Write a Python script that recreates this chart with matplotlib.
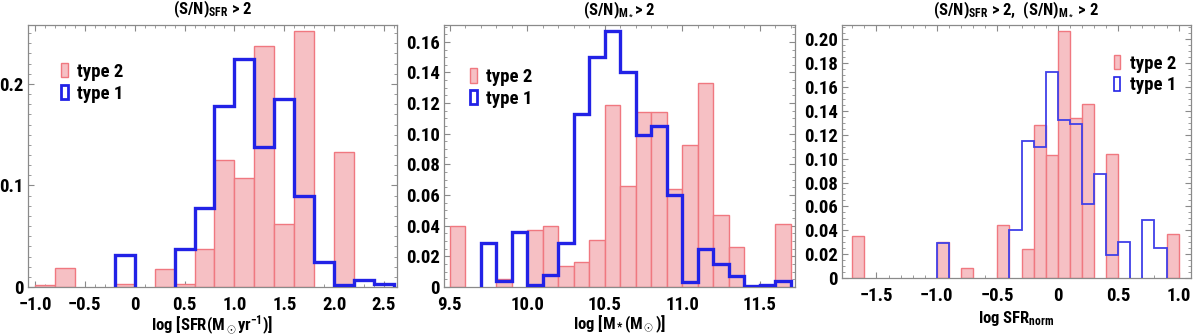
import numpy as np
import matplotlib
matplotlib.use("Agg")
import matplotlib.pyplot as plt
from matplotlib import font_manager
from matplotlib.patches import Patch
from matplotlib.ticker import MultipleLocator

# the reference uses a narrow bold sans; take whichever narrow face is installed
_narrow = []
for _f in font_manager.fontManager.ttflist:
    if ('Narrow' in _f.name or 'Condensed' in _f.name or _f.stretch == 'condensed') \
            and _f.name not in _narrow:
        _narrow.append(_f.name)
_pref = ['Liberation Sans Narrow', 'Roboto Condensed', 'Open Sans Condensed',
         'Noto Sans Condensed', 'DejaVu Sans']
_fams = [n for n in _pref if n in _narrow] + [n for n in _narrow if n not in _pref]
_main = _fams[0] if _fams else 'DejaVu Sans'
plt.rcParams['font.family'] = _fams + ['DejaVu Sans']
plt.rcParams['font.stretch'] = 'condensed'
plt.rcParams['font.weight'] = 'bold'
plt.rcParams['mathtext.fontset'] = 'custom'
plt.rcParams['mathtext.rm'] = _main + ':bold'
plt.rcParams['mathtext.bf'] = _main + ':bold'
plt.rcParams['mathtext.it'] = _main + ':bold'
plt.rcParams['mathtext.default'] = 'bf'

# panel 1: log SFR, bins of 0.2 from -1.0 to 2.6
sfr_edges = np.round(np.arange(-1.0, 2.61, 0.2), 2)
sfr_type2 = [0.002, 0.019, 0, 0, 0.003, 0, 0.018, 0.003, 0.037,
             0.125, 0.107, 0.237, 0.062, 0.252, 0, 0.133, 0, 0]
sfr_type1 = [0, 0, 0, 0, 0.032, 0, 0, 0.037, 0.078,
             0.178, 0.225, 0.138, 0.185, 0.090, 0.025, 0.002, 0.007, 0.003]
sfr_xticks = [-1.0, -0.5, 0, 0.5, 1.0, 1.5, 2.0, 2.5]
sfr_xlabels = ['\u22121.0', '\u22120.5', '0', '0.5', '1.0', '1.5', '2.0', '2.5']
sfr_yticks = [0, 0.1, 0.2]
sfr_ylabels = ['0', '0.1', '0.2']

# panel 2: log M*, bins of 0.1 from 9.5 to 11.7
mass_edges = np.round(np.arange(9.5, 11.71, 0.1), 2)
mass_type2 = [0.040, 0, 0, 0.005, 0, 0.037, 0.040, 0.014, 0.016, 0.031, 0.119,
              0.066, 0.114, 0.114, 0.064, 0.093, 0.133, 0.047, 0.026, 0, 0, 0.041]
mass_type1 = [0, 0, 0.029, 0.004, 0.036, 0.001, 0.008, 0.029, 0.113, 0.150, 0.167,
              0.140, 0.099, 0.105, 0.060, 0.003, 0.025, 0.015, 0.007, 0.0005, 0.001, 0.004]
mass_xticks = [9.5, 10.0, 10.5, 11.0, 11.5]
mass_xlabels = ['9.5', '10.0', '10.5', '11.0', '11.5']
mass_yticks = [0, 0.02, 0.04, 0.06, 0.08, 0.10, 0.12, 0.14, 0.16]
mass_ylabels = ['0', '0.02', '0.04', '0.06', '0.08', '0.10', '0.12', '0.14', '0.16']

# panel 3: log SFR_norm, bins of 0.1 from -1.7 to 1.0
norm_edges = np.round(np.arange(-1.7, 1.01, 0.1), 2)
norm_type2 = [0.035, 0, 0, 0, 0, 0, 0, 0.030, 0, 0.008, 0, 0, 0.044, 0,
              0.024, 0.128, 0.103, 0.207, 0.134, 0.146, 0, 0.104, 0, 0, 0, 0, 0.037]
norm_type1 = [0, 0, 0, 0, 0, 0, 0, 0.029, 0, 0, 0, 0, 0, 0.040,
              0.115, 0.110, 0.173, 0.132, 0.129, 0.062, 0.087, 0.019, 0.030, 0, 0.049, 0.025, 0]
norm_xticks = [-1.5, -1.0, -0.5, 0, 0.5, 1.0]
norm_xlabels = ['\u22121.5', '\u22121.0', '\u22120.5', '0', '0.5', '1.0']
norm_yticks = [0, 0.02, 0.04, 0.06, 0.08, 0.10, 0.12, 0.14, 0.16, 0.18, 0.20]
norm_ylabels = ['0', '0.02', '0.04', '0.06', '0.08', '0.10', '0.12', '0.14', '0.16', '0.18', '0.20']

RED_FILL = '#f6c0c4'
RED_EDGE = '#f07880'
BLUE = '#2222e6'
FRAME = '#8a8a8a'


def draw_type2(ax, edges, vals):
    vals = np.asarray(vals, dtype=float)
    keep = vals > 0
    widths = np.diff(edges)
    ax.bar(edges[:-1][keep], vals[keep], width=widths[keep], align='edge',
           facecolor=RED_FILL, edgecolor=RED_EDGE, linewidth=1.0, zorder=2)


def draw_type1(ax, edges, vals, lw, color):
    # one open step outline per run of non-empty bins
    vals = np.asarray(vals, dtype=float)
    i = 0
    n = len(vals)
    while i < n:
        if vals[i] > 0:
            j = i
            while j < n and vals[j] > 0:
                j += 1
            ax.stairs(vals[i:j], edges[i:j + 1], baseline=0, color=color,
                      linewidth=lw, zorder=3)
            i = j
        else:
            i += 1


def style_axes(ax, xlim, ylim, xticks, xlabels, yticks, ylabels, xminor, yminor):
    ax.set_xlim(*xlim)
    ax.set_ylim(*ylim)
    ax.set_xticks(xticks, xlabels)
    ax.set_yticks(yticks, ylabels)
    ax.xaxis.set_minor_locator(MultipleLocator(xminor))
    ax.yaxis.set_minor_locator(MultipleLocator(yminor))
    ax.tick_params(which='both', direction='in', color=FRAME, top=True, right=True)
    ax.tick_params(which='major', length=4, width=0.8, labelsize=13.5)
    ax.tick_params(axis='x', which='major', pad=6.5)
    ax.tick_params(axis='y', which='major', pad=3)
    ax.tick_params(which='minor', length=2, width=0.6)
    for s in ax.spines.values():
        s.set_color(FRAME)
        s.set_linewidth(0.9)


def add_legend(ax, bbox, blue_lw):
    handles = [Patch(facecolor=RED_FILL, edgecolor=RED_EDGE, linewidth=1.0, label='type 2'),
               Patch(facecolor='none', edgecolor=BLUE, linewidth=blue_lw, label='type 1')]
    ax.legend(handles=handles, loc='upper left', bbox_to_anchor=bbox, frameon=False,
              handlelength=0.35, handleheight=0.8, handletextpad=0.5,
              labelspacing=0.2, fontsize=13.5)


fig = plt.figure(figsize=(12, 3.36), dpi=100)
W, H = 1200, 336
ax1 = fig.add_axes([28 / W, (H - 287) / H, 369 / W, 262 / H])
ax2 = fig.add_axes([444 / W, (H - 287) / H, 351 / W, 262 / H])
ax3 = fig.add_axes([842 / W, (H - 278) / H, 349 / W, 253 / H])

# panel 1
draw_type2(ax1, sfr_edges, sfr_type2)
draw_type1(ax1, sfr_edges, sfr_type1, 2.4, BLUE)
style_axes(ax1, (-1.07, 2.63), (0, 0.258), sfr_xticks, sfr_xlabels,
           sfr_yticks, sfr_ylabels, 0.1, 0.01)
ax1.set_title(r'(S/N)$_{\rm SFR}$ > 2', fontsize=12, fontweight='bold', pad=8)
ax1.set_xlabel(r'log [SFR(M$_\odot$yr$^{-1}$)]', fontsize=12, fontweight='bold', labelpad=0)
add_legend(ax1, (0.045, 0.92), 2.0)

# panel 2
draw_type2(ax2, mass_edges, mass_type2)
draw_type1(ax2, mass_edges, mass_type1, 2.4, BLUE)
style_axes(ax2, (9.463, 11.726), (0, 0.171), mass_xticks, mass_xlabels,
           mass_yticks, mass_ylabels, 0.1, 0.005)
ax2.set_title(r'(S/N)$_{M_*}$> 2', fontsize=12, fontweight='bold', pad=8)
ax2.set_xlabel(r'log [M$_*$(M$_\odot$)]', fontsize=12, fontweight='bold', labelpad=0)
add_legend(ax2, (0.026, 0.90), 2.0)

# panel 3
draw_type2(ax3, norm_edges, norm_type2)
draw_type1(ax3, norm_edges, norm_type1, 1.3, '#4040e8')
style_axes(ax3, (-1.785, 1.102), (0, 0.212), norm_xticks, norm_xlabels,
           norm_yticks, norm_ylabels, 0.1, 0.005)
ax3.set_title(r'(S/N)$_{\rm SFR}$ > 2,  (S/N)$_{M_*}$ > 2', fontsize=12, fontweight='bold', pad=8)
ax3.set_xlabel(r'log SFR$_{\rm norm}$', fontsize=12, fontweight='bold', labelpad=3)
add_legend(ax3, (0.73, 0.95), 1.2)

fig.savefig('out.png', dpi=100)
